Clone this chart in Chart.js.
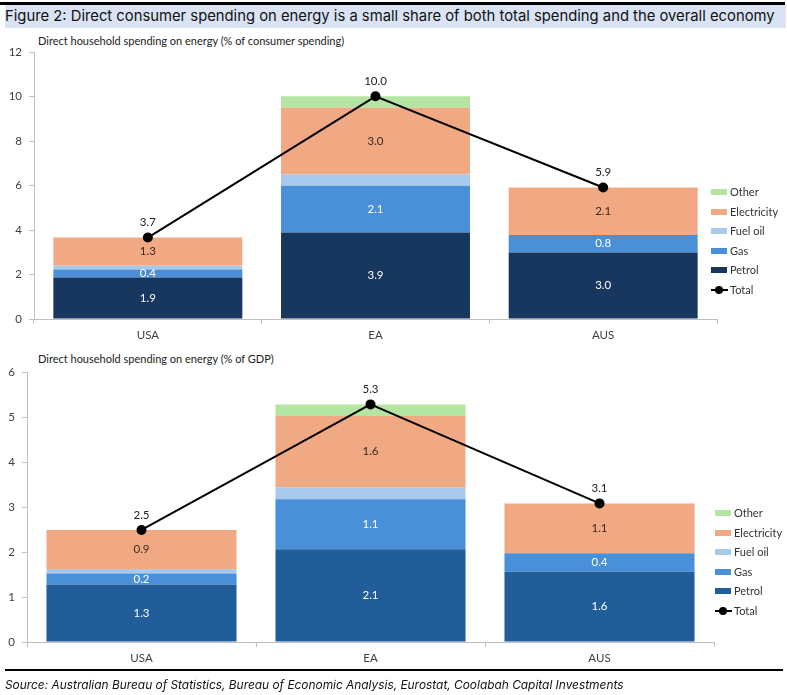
<!DOCTYPE html>
<html lang="en">
<head>
    <meta charset="UTF-8">
    <title>Figure 2 - Direct consumer spending on energy</title>
    <script src="https://cdn.jsdelivr.net/npm/chart.js@4.4.1/dist/chart.umd.min.js"></script>
    <style>
        body {
            margin: 0;
            background: #ffffff;
            font-family: Lato, 'Liberation Sans', sans-serif;
        }
        .page {
            position: relative;
            width: 787px;
            height: 695px;
            overflow: hidden;
        }
        .top-rule {
            position: absolute;
            left: 0; top: 2px;
            width: 785px; height: 3px;
            background: #000;
        }
        .fig-title {
            position: absolute;
            left: 5px; top: 5px;
            width: 781px; height: 23px;
            background: #dae3f3;
            font-family: Inter, 'Open Sans', sans-serif;
            font-size: 14.8px;
            line-height: 23px;
            color: #111;
            white-space: nowrap;
        }
        .chart-title {
            position: absolute;
            left: 38px;
            font-size: 11px;
            color: #222;
            white-space: nowrap;
        }
        .chart-box {
            position: absolute;
            left: 0;
            width: 787px;
            height: 320px;
        }
        .legend {
            position: absolute;
            font-size: 11px;
            color: #333;
        }
        .legend-row {
            position: relative;
            height: 19.6px;
            line-height: 19.6px;
            padding-left: 19px;
            white-space: nowrap;
        }
        .legend-row .swatch {
            position: absolute;
            left: 0; top: 7px;
            width: 16px; height: 6px;
        }
        .legend-row .line-key {
            position: absolute;
            left: 0; top: 9px;
            width: 17px; height: 2px;
            background: #000;
        }
        .legend-row .line-key::after {
            content: '';
            position: absolute;
            left: 4px; top: -3px;
            width: 8px; height: 8px;
            border-radius: 50%;
            background: #000;
        }
        .bottom-rule {
            position: absolute;
            left: 5px; top: 669px;
            width: 778px; height: 2px;
            background: #000;
        }
        .source {
            position: absolute;
            left: 5px; top: 677px;
            font-family: Inter, 'Open Sans', sans-serif;
            font-style: italic;
            font-size: 11.9px;
            color: #111;
            white-space: nowrap;
        }
    </style>
</head>
<body>
<div class="page">
    <div class="top-rule"></div>
    <div class="fig-title">Figure 2: Direct consumer spending on energy is a small share of both total spending and the overall economy</div>

    <div class="chart-title" style="top: 34px;">Direct household spending on energy (% of consumer spending)</div>
    <div class="chart-box" style="top: 30px;"><canvas id="consumerChart" width="787" height="320"></canvas></div>
    <div class="legend" id="consumerLegend" style="left: 711px; top: 182px;"></div>

    <div class="chart-title" style="top: 352px;">Direct household spending on energy (% of GDP)</div>
    <div class="chart-box" style="top: 350px;"><canvas id="gdpChart" width="787" height="320"></canvas></div>
    <div class="legend" id="gdpLegend" style="left: 715px; top: 503px;"></div>

    <div class="bottom-rule"></div>
    <div class="source">Source: Australian Bureau of Statistics, Bureau of Economic Analysis, Eurostat, Coolabah Capital Investments</div>
</div>

<script>
    // Categories and series
    const categories = ['USA', 'EA', 'AUS'];
    const seriesNames = ['Petrol', 'Gas', 'Fuel oil', 'Electricity', 'Other'];

    // % of consumer spending
    const consumerPetrol = [1.86, 3.89, 2.99];
    const consumerGas = [0.36, 2.10, 0.78];
    const consumerFuelOil = [0.17, 0.51, 0];
    const consumerElectricity = [1.27, 3.00, 2.14];
    const consumerOther = [0, 0.51, 0];
    const consumerTotal = [3.66, 10.01, 5.91];

    // % of GDP
    const gdpPetrol = [1.28, 2.06, 1.56];
    const gdpGas = [0.24, 1.11, 0.41];
    const gdpFuelOil = [0.10, 0.27, 0];
    const gdpElectricity = [0.87, 1.58, 1.11];
    const gdpOther = [0, 0.26, 0];
    const gdpTotal = [2.49, 5.28, 3.08];

    // Tick labels
    const consumerTicks = [0, 2, 4, 6, 8, 10, 12];
    const gdpTicks = [0, 1, 2, 3, 4, 5, 6];

    const axisGrey = '#bfbfbf';
    const tickFont = { family: 'Lato', size: 11.5 };

    // Draws the value labels inside the bars and above the total points
    const valueLabels = {
        id: 'valueLabels',
        afterDatasetsDraw(chart) {
            const ctx = chart.ctx;
            ctx.save();
            ctx.font = '11.5px Lato';
            ctx.textAlign = 'center';
            ctx.textBaseline = 'middle';
            chart.data.datasets.forEach((ds, i) => {
                if (!ds.labelColor) return;
                const meta = chart.getDatasetMeta(i);
                meta.data.forEach((el, j) => {
                    const v = ds.data[j];
                    if (!v) return;
                    const y = ds.type === 'line' ? el.y - 15 : (el.y + el.base) / 2;
                    ctx.fillStyle = ds.labelColor;
                    ctx.fillText(v.toFixed(1), el.x, y);
                });
            });
            ctx.restore();
        }
    };

    function barSet(label, data, color, labelColor) {
        return {
            type: 'bar',
            label: label,
            data: data,
            backgroundColor: color,
            borderWidth: 0,
            stack: 'energy',
            order: 1,
            labelColor: labelColor,
            categoryPercentage: 1.0,
            barPercentage: 0.83
        };
    }

    function buildChart(canvasId, values, total, colors, ticks, pad, yWidth) {
        const datasets = values.map((d, i) => barSet(seriesNames[i], d, colors[i],
            i === 0 || i === 1 ? '#ffffff' : (i === 3 ? '#3a2a20' : null)));
        datasets.push({
            type: 'line',
            label: 'Total',
            data: total,
            borderColor: '#000000',
            backgroundColor: '#000000',
            borderWidth: 2,
            pointRadius: 5,
            pointBackgroundColor: '#000000',
            pointBorderWidth: 0,
            stack: 'total',
            order: 0,
            labelColor: '#222222'
        });

        return new Chart(document.getElementById(canvasId), {
            data: { labels: categories, datasets: datasets },
            plugins: [valueLabels],
            options: {
                responsive: false,
                animation: false,
                layout: { padding: pad },
                plugins: {
                    legend: { display: false },
                    tooltip: { enabled: false }
                },
                scales: {
                    x: {
                        stacked: true,
                        afterFit: s => { s.height = 22; },
                        grid: { drawOnChartArea: false, drawTicks: true, tickLength: 5, color: axisGrey, offset: true },
                        border: { color: axisGrey },
                        ticks: { font: tickFont, color: '#404040', padding: 4 }
                    },
                    y: {
                        stacked: true,
                        min: ticks[0],
                        max: ticks[ticks.length - 1],
                        afterFit: s => { s.width = yWidth; },
                        afterBuildTicks: s => { s.ticks = ticks.map(v => ({ value: v })); },
                        grid: { drawOnChartArea: false, drawTicks: true, tickLength: 5, color: axisGrey },
                        border: { color: axisGrey },
                        ticks: { font: tickFont, color: '#404040', padding: 7 }
                    }
                }
            }
        });
    }

    function buildLegend(elId, colors) {
        const el = document.getElementById(elId);
        let html = '';
        for (let i = seriesNames.length - 1; i >= 0; i--) {
            html += '<div class="legend-row"><span class="swatch" style="background:' + colors[i] + '"></span>' + seriesNames[i] + '</div>';
        }
        html += '<div class="legend-row"><span class="line-key"></span>Total</div>';
        el.innerHTML = html;
    }

    const consumerColors = ['#17375e', '#4a90d9', '#a6c9ec', '#f1a983', '#b4e5a2'];
    const gdpColors = ['#215e99', '#4a90d9', '#a6c9ec', '#f1a983', '#b4e5a2'];

    buildChart('consumerChart',
        [consumerPetrol, consumerGas, consumerFuelOil, consumerElectricity, consumerOther],
        consumerTotal, consumerColors, consumerTicks,
        { left: 0, top: 22, right: 70, bottom: 9 }, 34);

    buildChart('gdpChart',
        [gdpPetrol, gdpGas, gdpFuelOil, gdpElectricity, gdpOther],
        gdpTotal, gdpColors, gdpTicks,
        { left: 0, top: 22, right: 73, bottom: 6 }, 27);

    buildLegend('consumerLegend', consumerColors);
    buildLegend('gdpLegend', gdpColors);
</script>
</body>
</html>
